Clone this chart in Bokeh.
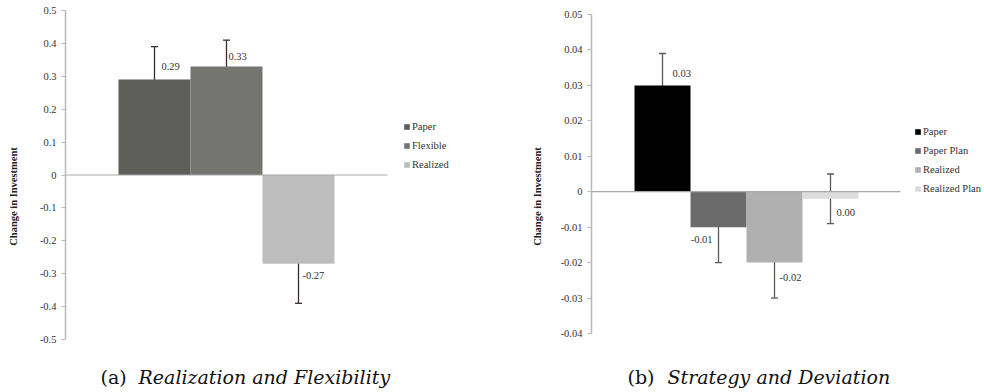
from bokeh.plotting import figure
from bokeh.layouts import row
from bokeh.models import (ColumnDataSource, Whisker, TeeHead, Legend, LegendItem,
                          FixedTicker, Label)
from bokeh.core.properties import value, field
from bokeh.embed import file_html
from bokeh.resources import INLINE

# ---------------- data: panel (a) ----------------
a_categories = ["Paper", "Flexible", "Realized"]
a_values = [0.29, 0.33, -0.27]
a_err_upper = [0.39, 0.41, -0.15]
a_err_lower = [0.19, 0.25, -0.39]
a_value_labels = ["0.29", "0.33", "-0.27"]
a_ticks = [-0.5, -0.4, -0.3, -0.2, -0.1, 0.0, 0.1, 0.2, 0.3, 0.4, 0.5]
a_tick_labels = ["-0.5", "-0.4", "-0.3", "-0.2", "-0.1", "0", "0.1", "0.2", "0.3", "0.4", "0.5"]
a_caption_tag = "(a)"
a_caption = "Realization and Flexibility"

# ---------------- data: panel (b) ----------------
b_categories = ["Paper", "Paper Plan", "Realized", "Realized Plan"]
b_values = [0.03, -0.01, -0.02, -0.002]
b_err_upper = [0.039, 0.0, -0.01, 0.005]
b_err_lower = [0.021, -0.02, -0.03, -0.009]
b_value_labels = ["0.03", "-0.01", "-0.02", "0.00"]
b_ticks = [-0.04, -0.03, -0.02, -0.01, 0.0, 0.01, 0.02, 0.03, 0.04, 0.05]
b_tick_labels = ["-0.04", "-0.03", "-0.02", "-0.01", "0", "0.01", "0.02", "0.03", "0.04", "0.05"]
b_caption_tag = "(b)"
b_caption = "Strategy and Deviation"

y_title = "Change in Investment"

# ---------------- styles ----------------
a_colors = ["#5d5e59", "#747570", "#bdbdbd"]
a_label_dx = [7, 2, 4]
a_label_dy = [-13, -10, 12]
a_label_align = ["left", "left", "left"]
a_err_color = "#3b2c2c"

b_colors = ["#000000", "#6b6b6b", "#b0b0b0", "#dcdcdc"]
b_label_dx = [10, -6, 5, 6]
b_label_dy = [-12, 12, 15, 14]
b_label_align = ["left", "right", "left", "left"]
b_err_color = "#5a5a5a"

SERIF = "Liberation Serif"
CAP_FONT = "DejaVu Serif"
H = 392


def make_panel(cats, vals, up, lo, labels, ticks, tick_labels, colors, ldx, ldy, lalign,
               err_color, width, border_left, px_per_unit, x_start, zero_end,
               y_top_px, y_bot_px, legend_loc, label_standoff,
               cap_tag, cap_text, cap_tag_x, cap_text_x, cap_y):
    frame_w = width - border_left
    x_end = x_start + frame_w / px_per_unit
    # vertical scale: top tick at y_top_px, bottom tick at y_bot_px (page pixels)
    span = ticks[-1] - ticks[0]
    ppu = (y_bot_px - y_top_px) / span
    y_end = ticks[-1] + y_top_px / ppu
    y_start = ticks[0] - (H - y_bot_px) / ppu
    p = figure(width=width, height=H, output_backend="svg", toolbar_location=None,
               x_axis_type=None, x_range=(x_start, x_end), y_range=(y_start, y_end),
               min_border_left=border_left, min_border_right=0,
               min_border_top=0, min_border_bottom=0, title=None)
    p.outline_line_color = None
    p.ygrid.visible = False
    p.background_fill_color = "white"
    p.border_fill_color = "white"

    xs = list(range(1, len(cats) + 1))
    src = ColumnDataSource(dict(x=xs, top=vals, cat=cats, color=colors,
                                upper=up, lower=lo, label=labels,
                                dx=ldx, dy=ldy, align=lalign))
    bars = p.vbar(x="x", top="top", bottom=0, width=1.0, source=src,
                  fill_color="color", line_color=None)

    # zero line
    p.segment(x0=[x_start], y0=[0], x1=[zero_end], y1=[0],
              line_color="#a8a8a8", line_width=1.2)

    w = Whisker(base="x", upper="upper", lower="lower", source=src,
                line_color=err_color, line_width=1.3,
                upper_head=TeeHead(size=7, line_color=err_color, line_width=1.3),
                lower_head=TeeHead(size=7, line_color=err_color, line_width=1.3))
    p.add_layout(w)

    p.text(x="x", y="top", text="label", source=src, x_offset="dx", y_offset="dy",
           text_align=field("align"), text_baseline="middle",
           text_font=value(SERIF), text_font_size="10.5px", text_color="#333333")

    ax = p.yaxis[0]
    ax.ticker = FixedTicker(ticks=ticks, minor_ticks=[])
    ax.bounds = (ticks[0], ticks[-1])
    ax.major_label_overrides = {t: l for t, l in zip(ticks, tick_labels)}
    ax.axis_line_color = "#b8b8b8"
    ax.axis_line_width = 1.5
    ax.major_tick_line_color = "#b8b8b8"
    ax.major_tick_out = 4
    ax.major_tick_in = 0
    ax.minor_tick_line_color = None
    ax.major_label_standoff = 5
    ax.major_label_text_font = SERIF
    ax.major_label_text_font_size = "10.5px"
    ax.major_label_text_color = "#333333"
    ax.axis_label = y_title
    ax.axis_label_text_font = SERIF
    ax.axis_label_text_font_style = "bold"
    ax.axis_label_text_font_size = "10.5px"
    ax.axis_label_text_color = "#222222"
    ax.axis_label_standoff = label_standoff

    items = [LegendItem(label=c, renderers=[bars], index=i) for i, c in enumerate(cats)]
    leg = Legend(items=items, location=legend_loc, orientation="vertical",
                 glyph_width=7, glyph_height=7, label_standoff=2, spacing=7,
                 label_height=12, padding=0, margin=0, border_line_color=None,
                 background_fill_alpha=0, label_text_font=SERIF,
                 label_text_font_size="10.5px", label_text_color="#333333",
                 label_text_baseline="middle")
    p.add_layout(leg)

    p.add_layout(Label(x=cap_tag_x, y=cap_y, x_units="screen", y_units="screen",
                       text=cap_tag, text_font=CAP_FONT, text_font_size="19px",
                       text_baseline="middle", text_color="#111111"))
    p.add_layout(Label(x=cap_text_x, y=cap_y, x_units="screen", y_units="screen",
                       text=cap_text, text_font=CAP_FONT, text_font_style="italic",
                       text_font_size="19px", text_baseline="middle", text_color="#111111"))
    return p


pa = make_panel(a_categories, a_values, a_err_upper, a_err_lower, a_value_labels,
                a_ticks, a_tick_labels, a_colors, a_label_dx, a_label_dy, a_label_align,
                a_err_color, width=490, border_left=65, px_per_unit=72,
                x_start=-0.236, zero_end=4.236, y_top_px=10, y_bot_px=339,
                legend_loc=(338, 222), label_standoff=18,
                cap_tag=a_caption_tag, cap_text=a_caption,
                cap_tag_x=35, cap_text_x=73, cap_y=16)

pb = make_panel(b_categories, b_values, b_err_upper, b_err_lower, b_value_labels,
                b_ticks, b_tick_labels, b_colors, b_label_dx, b_label_dy, b_label_align,
                b_err_color, width=494, border_left=101, px_per_unit=56,
                x_start=-0.268, zero_end=5.25, y_top_px=14, y_bot_px=333,
                legend_loc=(323, 198), label_standoff=15,
                cap_tag=b_caption_tag, cap_text=b_caption,
                cap_tag_x=36, cap_text_x=76, cap_y=16)

layout = row(pa, pb)
open("out.html", "w").write(file_html(layout, INLINE))
